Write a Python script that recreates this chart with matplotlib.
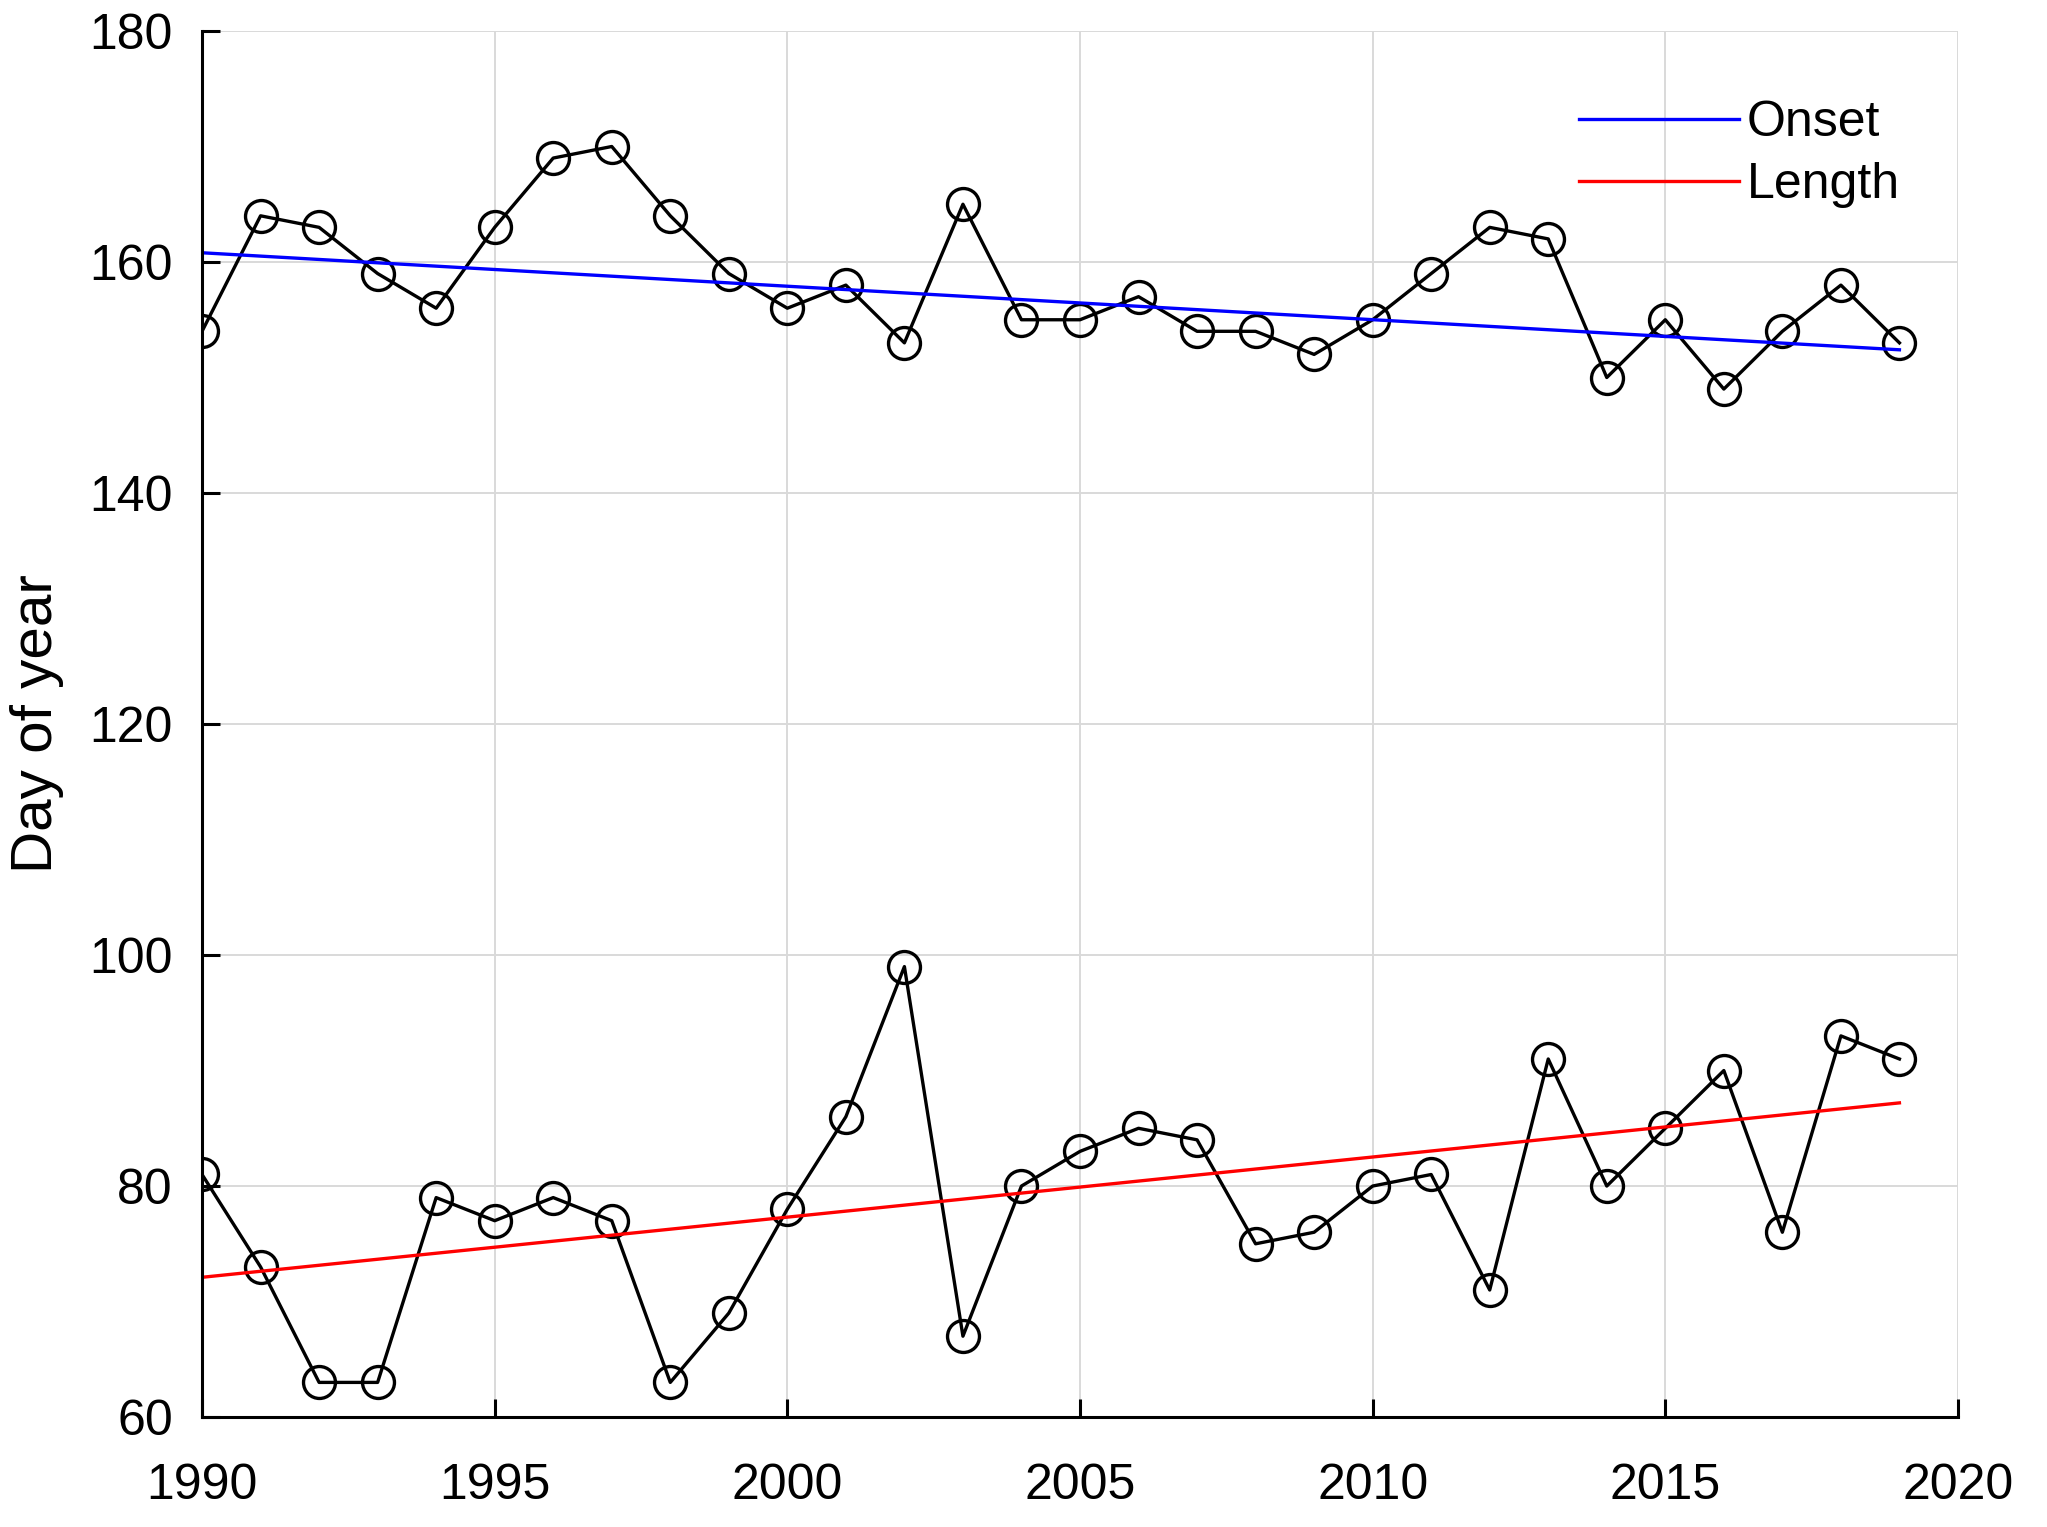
import matplotlib
matplotlib.use("Agg")
import matplotlib.pyplot as plt
import numpy as np

plt.rcParams['font.family'] = ['Liberation Sans', 'DejaVu Sans']

years = np.arange(1990, 2020)

onset = [154, 164, 163, 159, 156, 163, 169, 170, 164, 159,
         156, 158, 153, 165, 155, 155, 157, 154, 154, 152,
         155, 159, 163, 162, 150, 155, 149, 154, 158, 153]

length = [81, 73, 63, 63, 79, 77, 79, 77, 63, 69,
          78, 86, 99, 67, 80, 83, 85, 84, 75, 76,
          80, 81, 71, 91, 80, 85, 90, 76, 93, 91]

# trend lines (end points)
trend_years = [1990, 2019]
onset_trend = [160.8, 152.4]
length_trend = [72.1, 87.2]


def main():
    fig = plt.figure(figsize=(20.47, 15.27), dpi=100)
    ax = fig.add_axes([0.0987, 0.072, 0.8578, 0.9077])

    ax.plot(years, onset, color='black', lw=2.4, marker='o', ms=23,
            mfc='none', mec='black', mew=2.4)
    ax.plot(years, length, color='black', lw=2.4, marker='o', ms=23,
            mfc='none', mec='black', mew=2.4)

    ax.plot(trend_years, onset_trend, color='#0000ff', lw=2.4, label='Onset')
    ax.plot(trend_years, length_trend, color='#ff0000', lw=2.4, label='Length')

    ax.set_xlim(1990, 2020)
    ax.set_ylim(60, 180)
    ax.set_xticks(np.arange(1990, 2021, 5))
    ax.set_yticks(np.arange(60, 181, 20))

    ax.grid(True, color='#d9d9d9', lw=1.4)
    ax.set_axisbelow(True)
    for s in ['top', 'right']:
        ax.spines[s].set_visible(False)
    for s in ['left', 'bottom']:
        ax.spines[s].set_linewidth(2.2)

    ax.tick_params(axis='both', direction='in', length=13, width=2.2,
                   labelsize=36)
    ax.tick_params(axis='y', pad=21)
    ax.tick_params(axis='x', pad=33)

    fig.text(37 / 2047, 0.526, 'Day of year', rotation=90, fontsize=42,
             ha='center', va='center')

    ax.legend(loc='upper right', bbox_to_anchor=(0.967, 0.950),
              frameon=False, fontsize=36, handlelength=3.2,
              handletextpad=0.15, labelspacing=0.32, borderpad=0,
              borderaxespad=0)

    fig.savefig('out.png', dpi=100)


if __name__ == "__main__":
    main()
